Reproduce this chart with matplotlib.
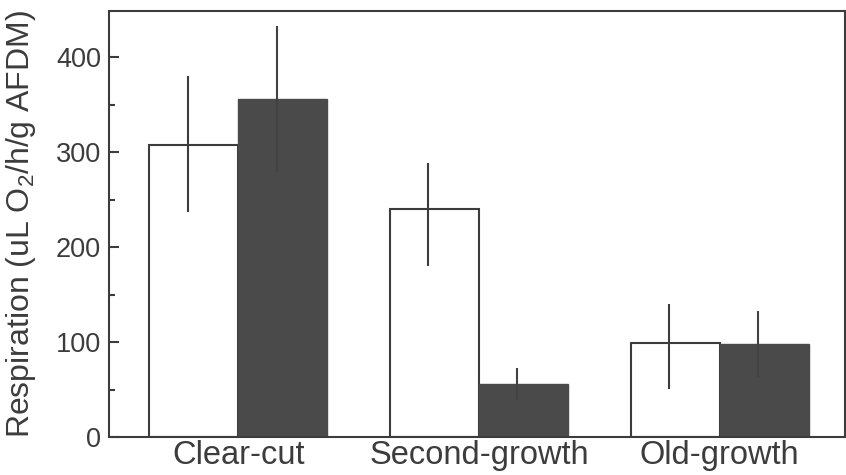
import numpy as np
import matplotlib
matplotlib.use("Agg")
import matplotlib.pyplot as plt
from matplotlib.ticker import MultipleLocator

plt.rcParams['font.family'] = ['Liberation Sans', 'DejaVu Sans']
plt.rcParams['mathtext.fontset'] = 'custom'
plt.rcParams['mathtext.rm'] = 'Liberation Sans'
plt.rcParams['mathtext.default'] = 'regular'

# data
sites = ["Clear-cut", "Second-growth", "Old-growth"]
open_vals = [308, 240, 99]
open_err_lo = [71, 60, 48]
open_err_hi = [72, 49, 41]
filled_vals = [356, 56, 98]
filled_err_lo = [77, 17, 35]
filled_err_hi = [77, 17, 35]

ink = "#3c3c3c"
fill = "#4a4a4a"

fig = plt.figure(figsize=(8.46, 4.75), dpi=100)
ax = fig.add_axes([0.1292, 0.0794, 0.8696, 0.898])

x = np.arange(len(sites))
w = 0.37
shift = 0.025  # error bars sit a little left of bar centres in the original

ax.bar(x - w / 2, open_vals, w, color="white", edgecolor=ink, linewidth=1.5, zorder=2)
ax.bar(x + w / 2, filled_vals, w, color=fill, edgecolor=fill, linewidth=1.0, zorder=2)
ax.errorbar(x - w / 2 - shift, open_vals, yerr=[open_err_lo, open_err_hi],
            fmt="none", ecolor=ink, elinewidth=1.5, capsize=0, zorder=3)
ax.errorbar(x + w / 2 - shift, filled_vals, yerr=[filled_err_lo, filled_err_hi],
            fmt="none", ecolor="#424242", elinewidth=1.5, capsize=0, zorder=3)

ax.set_xlim(-0.535, 2.52)
ax.set_ylim(0, 449)
ax.set_xticks(x)
ax.set_xticklabels(sites)
ax.yaxis.set_major_locator(MultipleLocator(100))
ax.yaxis.set_minor_locator(MultipleLocator(50))

ax.tick_params(axis="x", length=0, pad=2, labelsize=23.5, colors=ink)
ax.tick_params(axis="y", which="major", direction="in", length=7.5, width=1.5,
               pad=6, labelsize=19.5, colors=ink)
ax.tick_params(axis="y", which="minor", direction="in", length=4.5, width=1.5, colors=ink)
ax.tick_params(axis="y", which="both", labelcolor=ink)

for s in ax.spines.values():
    s.set_color(ink)
    s.set_linewidth(1.5)

ax.set_ylabel("Respiration (uL O$_2$/h/g AFDM)", fontsize=23, color=ink)
ax.yaxis.set_label_coords(-0.097, 0.5)

fig.savefig("out.png", dpi=100)
